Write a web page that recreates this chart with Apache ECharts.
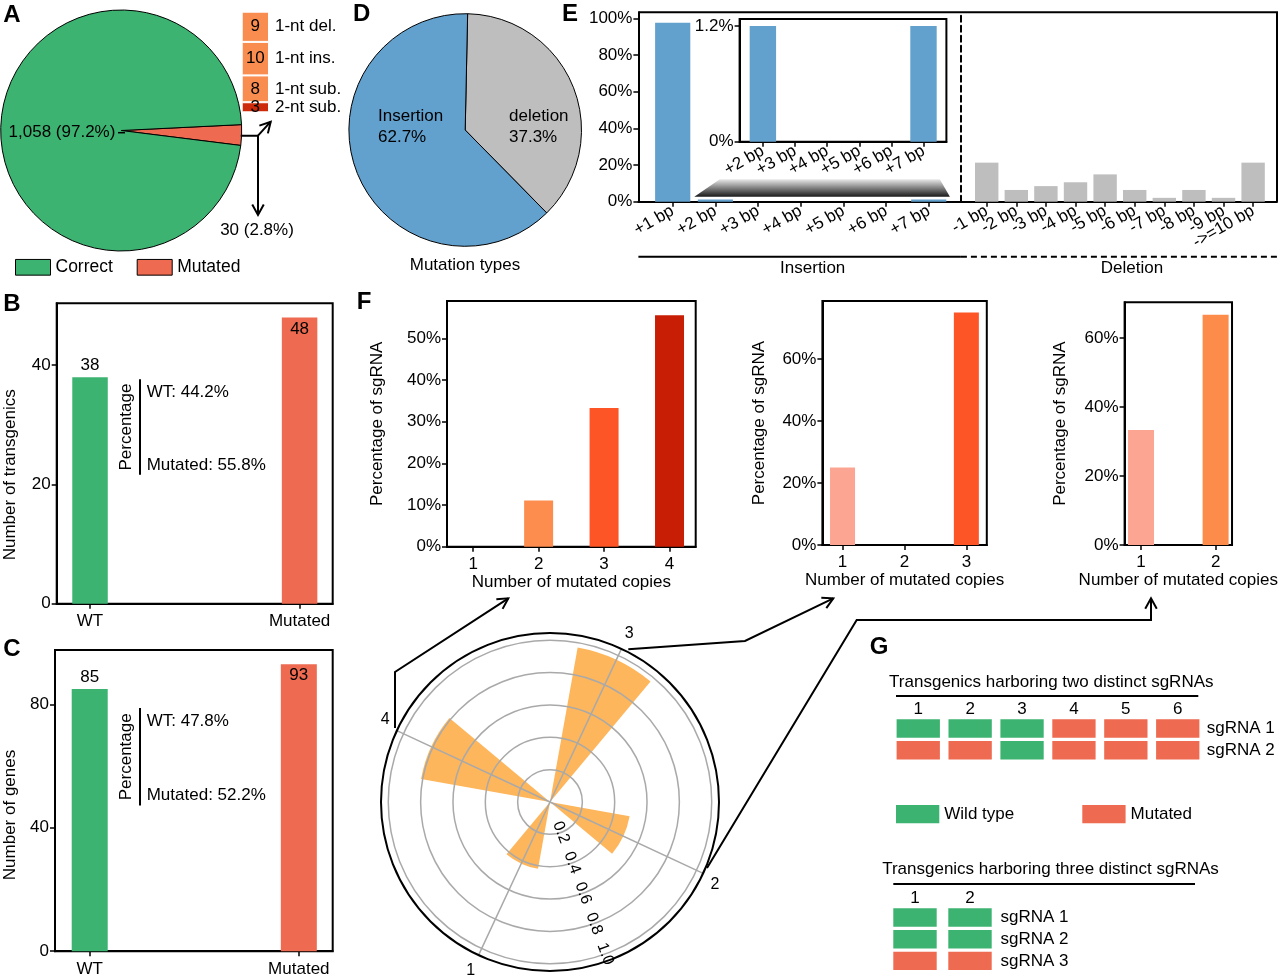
<!DOCTYPE html>
<html>
<head>
<meta charset="utf-8">
<script src="https://cdn.jsdelivr.net/npm/echarts@6/dist/echarts.min.js"></script>
<style>
html, body { margin: 0; background: #fff; }
#main { width: 1280px; height: 980px; }
</style>
</head>
<body>
<div id="main"></div>
<script>
// A: pie + breakdown of mutated sites
const pieNames = ['Mutated', 'Correct'];
const pieValues = [30, 1058];
const mutTypes = ['1-nt del.', '1-nt ins.', '1-nt sub.', '2-nt sub.'];
const mutCounts = [9, 10, 8, 3];
// B / C
const groupNames = ['WT', 'Mutated'];
const transgenicCounts = [38, 48];
const geneCounts = [85, 93];
// D
const typeNames = ['deletion', 'Insertion'];
const typePct = [37.3, 62.7];
// E
const insLabels = ['+1 bp', '+2 bp', '+3 bp', '+4 bp', '+5 bp', '+6 bp', '+7 bp'];
const insPct = [97.6, 1.2, 0, 0, 0, 0, 1.2];
const insetLabels = ['+2 bp', '+3 bp', '+4 bp', '+5 bp', '+6 bp', '+7 bp'];
const insetPct = [1.2, 0, 0, 0, 0, 1.2];
const delLabels = ['-1 bp', '-2 bp', '-3 bp', '-4 bp', '-5 bp', '-6 bp', '-7 bp', '-8 bp', '-9 bp', '->=10 bp'];
const delPct = [21.3, 6.4, 8.5, 10.6, 14.9, 6.4, 2.1, 6.4, 2.1, 21.3];
// F
const copies4 = ['1', '2', '3', '4'];
const pct4 = [0, 11.1, 33.3, 55.6];
const copies3 = ['1', '2', '3'];
const pct3 = [25, 0, 75];
const copies2 = ['1', '2'];
const pct2 = [33.3, 66.7];
const polarCats = ['2', '3', '4', '1'];
const polarVals = [0.50, 0.97, 0.81, 0.42];
// G  (0 = wild type, 1 = mutated)
const twoSgCols = ['1', '2', '3', '4', '5', '6'];
const twoSgRows = ['sgRNA 1', 'sgRNA 2'];
const twoSgStatus = [[0, 0, 0, 1, 1, 1], [1, 1, 0, 1, 1, 1]];
const threeSgCols = ['1', '2'];
const threeSgRows = ['sgRNA 1', 'sgRNA 2', 'sgRNA 3'];
const threeSgStatus = [[0, 0], [0, 0], [1, 1]];

const FONT = '"Liberation Sans", Arial, Helvetica, sans-serif';
const GREEN = '#3CB371', CORAL = '#EE6A50', ORANGE = '#F98D50', DARKRED = '#CC2A0A';
const BLUE = '#62A0CE', GRAY = '#BEBEBE', PETAL = '#FDB65C';
const F4COLORS = ['#FCA592', '#FC8D4F', '#FE5526', '#C81E06'];
const F3COLORS = ['#FCA592', '#FC8D4F', '#FE5526'];
const F2COLORS = ['#FCA592', '#FD8C4B'];

const frame = { show: true, borderColor: '#000', borderWidth: 2 };

function pickLabel (ticks, labels) {
  return v => {
    const i = ticks.findIndex(t => Math.abs(t - v) < 1e-6);
    return i < 0 ? '' : labels[i];
  };
}

// blank labels at both ends soak up the min/max overlap check,
// so crowded rotated labels next to them stay visible
function valueX (gridIndex, min, max, ticks, labels, extra, labelExtra) {
  const eps = (max - min) * 0.002;
  return Object.assign({
    type: 'value', gridIndex: gridIndex, min: min, max: max,
    axisLine: { show: true, onZero: false, lineStyle: { color: '#000', width: 2 } },
    axisTick: { show: true, customValues: ticks, length: 5, lineStyle: { color: '#000', width: 1.5 } },
    axisLabel: Object.assign({
      customValues: [min + eps].concat(ticks, [max - eps]),
      formatter: pickLabel(ticks, labels), color: '#000', fontSize: 17, margin: 9
    }, labelExtra || {}),
    splitLine: { show: false }
  }, extra || {});
}

function valueY (gridIndex, max, ticks, fmt, extra) {
  return Object.assign({
    type: 'value', gridIndex: gridIndex, min: 0, max: max,
    axisLine: { show: true, onZero: false, lineStyle: { color: '#000', width: 2 } },
    axisTick: { show: true, customValues: ticks, length: 5, lineStyle: { color: '#000', width: 1.5 } },
    axisLabel: { customValues: ticks, formatter: fmt, color: '#000', fontSize: 17, margin: 6, showMinLabel: true, showMaxLabel: true },
    splitLine: { show: false }
  }, extra || {});
}

const pctFmt = v => v + '%';
const numFmt = v => String(v);
const nameStyle = { fontSize: 17, color: '#000' };
const fName = { name: 'Number of mutated copies', nameLocation: 'middle', nameGap: 27, nameTextStyle: nameStyle };
const rot30 = { rotate: 30, margin: 8 };

function pctText (counts, i) {
  const total = counts.reduce((a, b) => a + b, 0);
  return groupNames[i] + ': ' + (counts[i] / total * 100).toFixed(1) + '%';
}

function cells (status, flag) {
  const out = [];
  status.forEach((row, r) => row.forEach((s, c) => { if (s === flag) out.push([c, r]); }));
  return out;
}

function txt (x, y, text, o) {
  o = o || {};
  const align = o.align || 'center';
  return {
    type: 'text', x: x, y: y, rotation: o.rot || 0, z: 20,
    style: {
      text: text, fill: '#000',
      font: (o.bold ? 'bold ' : '') + (o.size || 17) + 'px ' + FONT,
      textAlign: align, textVerticalAlign: 'middle', align: align, verticalAlign: 'middle'
    }
  };
}

function line (points, o) {
  o = o || {};
  return {
    type: 'polyline', z: 20, shape: { points: points },
    style: { stroke: '#000', lineWidth: o.w || 2, fill: null, lineDash: o.dash ? [6, 4] : null }
  };
}

function arrow (from, tip) {
  const a = Math.atan2(from[1] - tip[1], from[0] - tip[0]);
  const len = 12, ang = 0.5;
  return line([
    [tip[0] + len * Math.cos(a + ang), tip[1] + len * Math.sin(a + ang)],
    tip,
    [tip[0] + len * Math.cos(a - ang), tip[1] + len * Math.sin(a - ang)]
  ]);
}

function percentBlock (counts, yTop, yBot, yWT, yMut) {
  return [
    txt(126, (yTop + yBot) / 2, 'Percentage', { rot: Math.PI / 2 }),
    line([[140, yTop], [140, yBot]]),
    txt(146.7, yWT, pctText(counts, 0), { align: 'left' }),
    txt(146.7, yMut, pctText(counts, 1), { align: 'left' })
  ];
}

function gCategory (gridIndex, data, isY) {
  return {
    type: 'category', gridIndex: gridIndex, data: data,
    position: isY ? 'right' : 'top', inverse: !!isY,
    axisLine: { show: false }, axisTick: { show: false },
    axisLabel: { fontSize: 17, color: '#000', margin: isY ? 3 : 0, interval: 0 }
  };
}

const chart = echarts.init(document.getElementById('main'));

const mutTotal = pieValues.reduce((a, b) => a + b, 0);

const option = {
  animation: false,
  backgroundColor: '#fff',
  textStyle: { fontFamily: FONT, color: '#000' },
  grid: [
    { left: 241.7, top: 11.7, width: 27.3, height: 100.6 },
    Object.assign({ left: 56.7, top: 303.2, width: 276, height: 300.5 }, frame),
    Object.assign({ left: 55, top: 649.9, width: 277.7, height: 301.3 }, frame),
    { left: 638.4, top: 12.3, width: 322.5, height: 189.4 },
    { left: 960.9, top: 12.3, width: 316.1, height: 189.4 },
    { left: 739.6, top: 19, width: 206.8, height: 122.7, show: true, backgroundColor: '#fff', borderColor: '#000', borderWidth: 2 },
    Object.assign({ left: 447, top: 301, width: 248.7, height: 245.7 }, frame),
    Object.assign({ left: 822.4, top: 301, width: 164.4, height: 244 }, frame),
    Object.assign({ left: 1124.6, top: 302.3, width: 122.7, height: 242.7 }, frame),
    { left: 892.3, top: 717.65, width: 311.4, height: 43.4 },
    { left: 887.5, top: 906.65, width: 110, height: 65.1 }
  ],
  xAxis: [
    { type: 'category', gridIndex: 0, data: ['Mutated'], show: false },
    valueX(1, -0.159, 1.158, [0, 1], groupNames),
    valueX(2, -0.166, 1.162, [0, 1], groupNames, null, { margin: 10 }),
    valueX(3, 0.196, 7.754, [1, 2, 3, 4, 5, 6, 7], insLabels, null, rot30),
    valueX(4, 0.128, 10.807, [1, 2, 3, 4, 5, 6, 7, 8, 9, 10], delLabels, null, rot30),
    valueX(5, 1.275, 7.713, [2, 3, 4, 5, 6, 7], insetLabels, null, rot30),
    valueX(6, 0.6, 4.4, [1, 2, 3, 4], copies4, fName),
    valueX(7, 0.675, 3.33, [1, 2, 3], copies3, fName),
    valueX(8, 0.78, 2.22, [1, 2], copies2, fName),
    gCategory(9, twoSgCols, false),
    gCategory(10, threeSgCols, false)
  ],
  yAxis: [
    { type: 'value', gridIndex: 0, min: 0, max: 30, inverse: true, show: false },
    valueY(1, 50.4, [0, 20, 40], numFmt),
    valueY(2, 97.65, [0, 40, 80], numFmt),
    valueY(3, 103.3, [0, 20, 40, 60, 80, 100], pctFmt),
    { type: 'value', gridIndex: 4, min: 0, max: 103.3, axisLine: { show: true, onZero: false, lineStyle: { color: '#000', width: 2, type: [6, 4] } }, axisTick: { show: false }, axisLabel: { show: false }, splitLine: { show: false } },
    valueY(5, 1.273, [0, 1.2], pctFmt),
    valueY(6, 59, [0, 10, 20, 30, 40, 50], pctFmt, { name: 'Percentage of sgRNA', nameLocation: 'middle', nameGap: 61, nameTextStyle: nameStyle }),
    valueY(7, 78.7, [0, 20, 40, 60], pctFmt, { name: 'Percentage of sgRNA', nameLocation: 'middle', nameGap: 55, nameTextStyle: nameStyle }),
    valueY(8, 70.3, [0, 20, 40, 60], pctFmt, { name: 'Percentage of sgRNA', nameLocation: 'middle', nameGap: 56, nameTextStyle: nameStyle }),
    gCategory(9, twoSgRows, true),
    gCategory(10, threeSgRows, true)
  ],
  polar: { center: [550, 802], radius: 169 },
  angleAxis: {
    type: 'category', data: polarCats, startAngle: 290, clockwise: false, z: 3,
    axisLine: { lineStyle: { color: '#000', width: 2 } },
    axisTick: { show: false, alignWithLabel: true },
    axisLabel: { fontSize: 16, color: '#000', margin: 8 },
    splitLine: { show: true, lineStyle: { color: '#A9A9A9', width: 1.5 } }
  },
  radiusAxis: {
    type: 'value', min: 0, max: 1.045, z: 3,
    axisLine: { show: false },
    axisTick: { show: false, customValues: [0.2, 0.4, 0.6, 0.8, 1.0] },
    axisLabel: { customValues: [0.2, 0.4, 0.6, 0.8, 1.0], formatter: v => v.toFixed(1), rotate: -70, fontSize: 16, color: '#000', margin: -8, showMinLabel: true, showMaxLabel: true },
    splitLine: { show: true, lineStyle: { color: '#A9A9A9', width: 1.5 } }
  },
  legend: [
    { data: ['Correct'], left: 15, top: 258.3, padding: 0, icon: 'rect', itemWidth: 35, itemHeight: 15.7, selectedMode: false, textStyle: { fontSize: 17.5, color: '#000' }, itemStyle: { borderColor: '#000', borderWidth: 1 } },
    { data: ['Mutated'], left: 136.7, top: 258.3, padding: 0, icon: 'rect', itemWidth: 35, itemHeight: 15.7, selectedMode: false, textStyle: { fontSize: 17.5, color: '#000' }, itemStyle: { borderColor: '#000', borderWidth: 1 } },
    { data: ['Wild type'], left: 896, top: 805, padding: 0, icon: 'rect', itemWidth: 43.3, itemHeight: 18.3, selectedMode: false, textStyle: { fontSize: 17, color: '#000' } },
    { data: ['Mutated'], left: 1082.3, top: 805, padding: 0, icon: 'rect', itemWidth: 43.3, itemHeight: 18.3, selectedMode: false, textStyle: { fontSize: 17, color: '#000' } }
  ],
  series: [
    ...mutTypes.map((name, i) => ({
      type: 'bar', name: name, xAxisIndex: 0, yAxisIndex: 0, stack: 'mut', barWidth: '100%',
      data: [mutCounts[i]],
      itemStyle: { color: i === 3 ? DARKRED : ORANGE, borderColor: '#fff', borderWidth: 1 },
      label: {
        show: true, position: 'insideLeft', distance: 0,
        formatter: p => '{v|' + p.value + '}{n|' + p.seriesName + '}',
        rich: {
          v: { width: 27.3, align: 'center', fontSize: 17, color: '#000' },
          n: { fontSize: 17, color: '#000', padding: [0, 0, 0, 6] }
        }
      }
    })),
    {
      type: 'pie', center: [121.2, 130.5], radius: 120.5, startAngle: 2.8, clockwise: true,
      data: pieNames.map((n, i) => ({ name: n, value: pieValues[i], itemStyle: { color: n === 'Correct' ? GREEN : CORAL }, label: { show: n === 'Correct' } })),
      itemStyle: { borderColor: '#000', borderWidth: 1 },
      label: { position: 'inside', formatter: p => p.value.toLocaleString('en-US') + ' (' + p.percent.toFixed(1) + '%)', fontSize: 17, color: '#000' },
      labelLayout: () => ({ x: 62, y: 132.7, align: 'center', verticalAlign: 'middle' }),
      labelLine: { show: false },
      emphasis: { disabled: true }
    },
    {
      type: 'pie', center: [465.2, 130], radius: 116.3, startAngle: 88.8, clockwise: true, percentPrecision: 1,
      data: typeNames.map((n, i) => ({ name: n, value: typePct[i], itemStyle: { color: i === 0 ? GRAY : BLUE } })),
      itemStyle: { borderColor: '#000', borderWidth: 1 },
      label: { position: 'inside', formatter: '{b}\n{d}%', fontSize: 17, lineHeight: 21.5, color: '#000', align: 'left' },
      labelLayout: p => ({ x: p.dataIndex === 0 ? 509 : 378, y: 127, align: 'left', verticalAlign: 'middle' }),
      emphasis: { disabled: true }
    },
    {
      type: 'bar', xAxisIndex: 1, yAxisIndex: 1, barWidth: 35.5,
      data: groupNames.map((g, i) => ({ value: [i, transgenicCounts[i]], itemStyle: { color: i ? CORAL : GREEN }, label: { position: i ? 'insideTop' : 'top' } })),
      label: { show: true, formatter: p => p.value[1], fontSize: 17, color: '#000', distance: 3 }
    },
    {
      type: 'bar', xAxisIndex: 2, yAxisIndex: 2, barWidth: 36,
      data: groupNames.map((g, i) => ({ value: [i, geneCounts[i]], itemStyle: { color: i ? CORAL : GREEN }, label: { position: i ? 'insideTop' : 'top' } })),
      label: { show: true, formatter: p => p.value[1], fontSize: 17, color: '#000', distance: 3 }
    },
    { type: 'bar', xAxisIndex: 3, yAxisIndex: 3, barWidth: 35.2, itemStyle: { color: BLUE }, data: insLabels.map((l, i) => [i + 1, insPct[i]]) },
    { type: 'bar', xAxisIndex: 4, yAxisIndex: 4, barWidth: 23.4, itemStyle: { color: GRAY }, data: delLabels.map((l, i) => [i + 1, delPct[i]]) },
    { type: 'bar', xAxisIndex: 5, yAxisIndex: 5, barWidth: 26.4, itemStyle: { color: BLUE }, data: insetLabels.map((l, i) => [i + 2, insetPct[i]]) },
    { type: 'bar', xAxisIndex: 6, yAxisIndex: 6, barWidth: 29, data: copies4.map((c, i) => ({ value: [i + 1, pct4[i]], itemStyle: { color: F4COLORS[i] } })) },
    { type: 'bar', xAxisIndex: 7, yAxisIndex: 7, barWidth: 25, data: copies3.map((c, i) => ({ value: [i + 1, pct3[i]], itemStyle: { color: F3COLORS[i] } })) },
    { type: 'bar', xAxisIndex: 8, yAxisIndex: 8, barWidth: 26, data: copies2.map((c, i) => ({ value: [i + 1, pct2[i]], itemStyle: { color: F2COLORS[i] } })) },
    { type: 'bar', coordinateSystem: 'polar', data: polarVals, barWidth: '33%', itemStyle: { color: PETAL }, z: 1 },
    { type: 'scatter', name: 'Wild type', xAxisIndex: 9, yAxisIndex: 9, symbol: 'rect', symbolSize: [43.3, 18.4], data: cells(twoSgStatus, 0), itemStyle: { color: GREEN, opacity: 1 } },
    { type: 'scatter', name: 'Mutated', xAxisIndex: 9, yAxisIndex: 9, symbol: 'rect', symbolSize: [43.3, 18.4], data: cells(twoSgStatus, 1), itemStyle: { color: CORAL, opacity: 1 } },
    { type: 'scatter', name: 'Wild type', xAxisIndex: 10, yAxisIndex: 10, symbol: 'rect', symbolSize: [43.4, 18.4], data: cells(threeSgStatus, 0), itemStyle: { color: GREEN, opacity: 1 } },
    { type: 'scatter', name: 'Mutated', xAxisIndex: 10, yAxisIndex: 10, symbol: 'rect', symbolSize: [43.4, 18.4], data: cells(threeSgStatus, 1), itemStyle: { color: CORAL, opacity: 1 } }
  ],
  graphic: [
    // panel letters
    txt(12, 15, 'A', { bold: true, size: 24 }),
    txt(12, 304.5, 'B', { bold: true, size: 24 }),
    txt(12, 649, 'C', { bold: true, size: 24 }),
    txt(361.6, 14, 'D', { bold: true, size: 24 }),
    txt(570, 14, 'E', { bold: true, size: 24 }),
    txt(364, 302, 'F', { bold: true, size: 24 }),
    txt(879, 647.5, 'G', { bold: true, size: 24 }),
    // A annotations
    line([[118, 132.7], [125, 132.7]], { w: 1.5 }),
    line([[240.7, 135.7], [258, 135.7], [258, 215]]),
    arrow([258, 135.7], [258, 215]),
    line([[258, 135.7], [270.7, 121.7]]),
    arrow([258, 135.7], [270.7, 121.7]),
    txt(257, 230, pieValues[0] + ' (' + (pieValues[0] / mutTotal * 100).toFixed(1) + '%)'),
    // B / C annotations
    txt(10, 474.8, 'Number of transgenics', { rot: Math.PI / 2 }),
    ...percentBlock(transgenicCounts, 379.3, 474.8, 392, 465.1),
    txt(10, 815, 'Number of genes', { rot: Math.PI / 2 }),
    ...percentBlock(geneCounts, 708, 805.6, 721, 795),
    // D
    txt(465, 265, 'Mutation types'),
    // E frame, zoom wedge and group labels
    line([[638.4, 12.3], [1277, 12.3], [1277, 201.7]]),
    {
      type: 'polygon', z: 15,
      shape: { points: [[719.8, 179.3], [939.8, 179.3], [949.9, 196.7], [694.3, 196.7]] },
      style: { fill: { type: 'linear', x: 0, y: 0, x2: 0, y2: 1, colorStops: [{ offset: 0, color: '#E8E8E8' }, { offset: 1, color: '#1A1A1A' }] } }
    },
    line([[638.4, 256.7], [960.9, 256.7]]),
    line([[960.9, 256.7], [1277, 256.7]], { dash: true }),
    txt(812.7, 268.3, 'Insertion'),
    txt(1132, 268.3, 'Deletion'),
    // connectors from the polar chart to F
    line([[395, 728], [395, 672], [508.3, 598.3]]),
    arrow([395, 672], [508.3, 598.3]),
    line([[628.3, 649.3], [745, 641], [833.3, 598.3]]),
    arrow([745, 641], [833.3, 598.3]),
    line([[707, 868], [856.7, 620], [1151, 620], [1151, 598.3]]),
    arrow([1151, 620], [1151, 598.3]),
    // G headings
    txt(1051.3, 682.3, 'Transgenics harboring two distinct sgRNAs'),
    line([[896, 696], [1198.3, 696]]),
    txt(1050.5, 869.3, 'Transgenics harboring three distinct sgRNAs'),
    line([[893.3, 884], [1195, 884]])
  ]
};

chart.setOption(option);
</script>
</body>
</html>
